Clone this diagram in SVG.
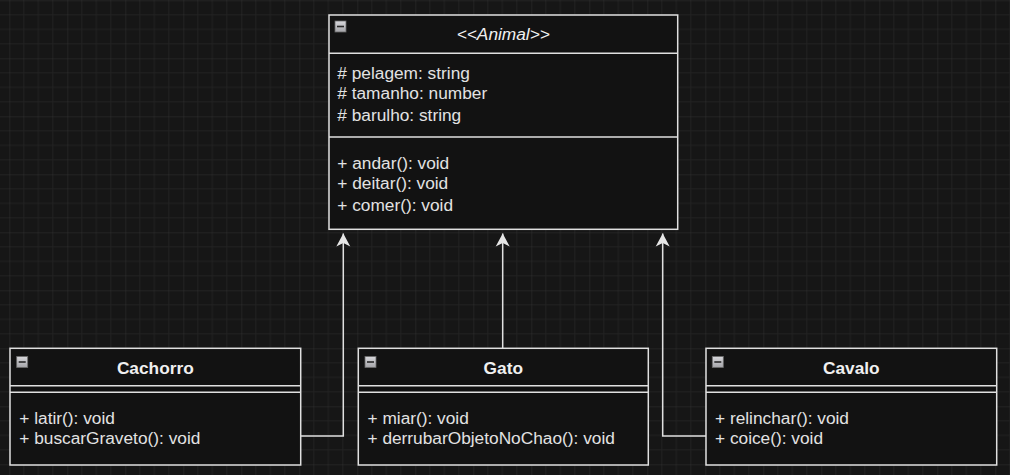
<svg xmlns="http://www.w3.org/2000/svg" width="1010" height="475" viewBox="0 0 1010 475">
<defs>
<pattern id="grid" patternUnits="userSpaceOnUse" x="9.3" y="0.3" width="58" height="58">
<path d="M14.5,0V58M29,0V58M43.5,0V58M0,14.5H58M0,29H58M0,43.5H58" stroke="#222" stroke-width="1" fill="none"/>
<path d="M0,0V58M0,0H58" stroke="#303030" stroke-width="1" fill="none"/>
</pattern>
<linearGradient id="ig" x1="0" y1="0" x2="0" y2="1">
<stop offset="0" stop-color="#d8d8dc"/>
<stop offset="1" stop-color="#a4a4a8"/>
</linearGradient>
<marker id="arr" viewBox="-14 -8 15 16" refX="0" refY="0" markerWidth="15" markerHeight="16" markerUnits="userSpaceOnUse" orient="auto">
<path d="M0,0 L-13,-7 L-9.5,0 L-13,7 Z" fill="#e6e6e6"/>
</marker>
<g id="icon">
<rect x="0" y="0" width="11" height="11" fill="url(#ig)" stroke="#6a6a6a" stroke-width="0.8"/>
<rect x="2" y="4.7" width="7" height="1.6" fill="#2a2a2a"/>
</g>
</defs>
<style>
.box{fill:#121212;stroke:#e0e0e0;stroke-width:1.5}
.sep{stroke:#e0e0e0;stroke-width:1.5;fill:none}
.t{font-family:"Liberation Sans",Arial,sans-serif;font-size:17.3px;fill:#e2e2e2}
.title{font-family:"Liberation Sans",Arial,sans-serif;font-size:17.3px;fill:#f0f0f0;text-anchor:middle}
.b{font-weight:bold}
.i{font-style:italic}
.edge{stroke:#e0e0e0;stroke-width:1.5;fill:none}
</style>
<rect x="0" y="0" width="1010" height="475" fill="#161616"/>
<rect x="0" y="0" width="1010" height="475" fill="url(#grid)"/>

<g id="connectors">
<path class="edge" d="M300.7,436 H343.3 V233.5" marker-end="url(#arr)"/>
<path class="edge" d="M502.7,348.3 V233.5" marker-end="url(#arr)"/>
<path class="edge" d="M706,436 H662.7 V233.5" marker-end="url(#arr)"/>
</g>

<g id="animal">
<rect class="box" x="329" y="15" width="348.7" height="214.3"/>
<path class="sep" d="M329,53.3H677.7M329,137H677.7"/>
<use href="#icon" x="335" y="21"/>
<text class="title i" x="503.3" y="40.3">&lt;&lt;Animal&gt;&gt;</text>
<text class="t" x="337.3" y="79">#&#160;pelagem: string</text>
<text class="t" x="337.3" y="99">#&#160;tamanho: number</text>
<text class="t" x="337.3" y="120.7">#&#160;barulho: string</text>
<text class="t" x="337.3" y="169">+ andar(): void</text>
<text class="t" x="337.3" y="189">+ deitar(): void</text>
<text class="t" x="337.3" y="210.7">+ comer(): void</text>
</g>

<g id="cachorro">
<rect class="box" x="10" y="348.3" width="290.7" height="116.7"/>
<path class="sep" d="M10,385.7H300.7M10,392.3H300.7"/>
<use href="#icon" x="16.7" y="356.5"/>
<text class="title b" x="155.3" y="374">Cachorro</text>
<text class="t" x="19.3" y="424">+ latir(): void</text>
<text class="t" x="19.3" y="444">+ buscarGraveto(): void</text>
</g>

<g id="gato">
<rect class="box" x="358.3" y="348.3" width="290" height="116.7"/>
<path class="sep" d="M358.3,385.7H648.3M358.3,392.3H648.3"/>
<use href="#icon" x="365" y="356.5"/>
<text class="title b" x="503.3" y="374">Gato</text>
<text class="t" x="367.5" y="424">+ miar(): void</text>
<text class="t" x="367.5" y="444">+ derrubarObjetoNoChao(): void</text>
</g>

<g id="cavalo">
<rect class="box" x="706" y="348.3" width="290.7" height="116.7"/>
<path class="sep" d="M706,385.7H996.7M706,392.3H996.7"/>
<use href="#icon" x="712.3" y="356.5"/>
<text class="title b" x="851.3" y="374">Cavalo</text>
<text class="t" x="715" y="424">+ relinchar(): void</text>
<text class="t" x="715" y="444">+ coice(): void</text>
</g>
</svg>
